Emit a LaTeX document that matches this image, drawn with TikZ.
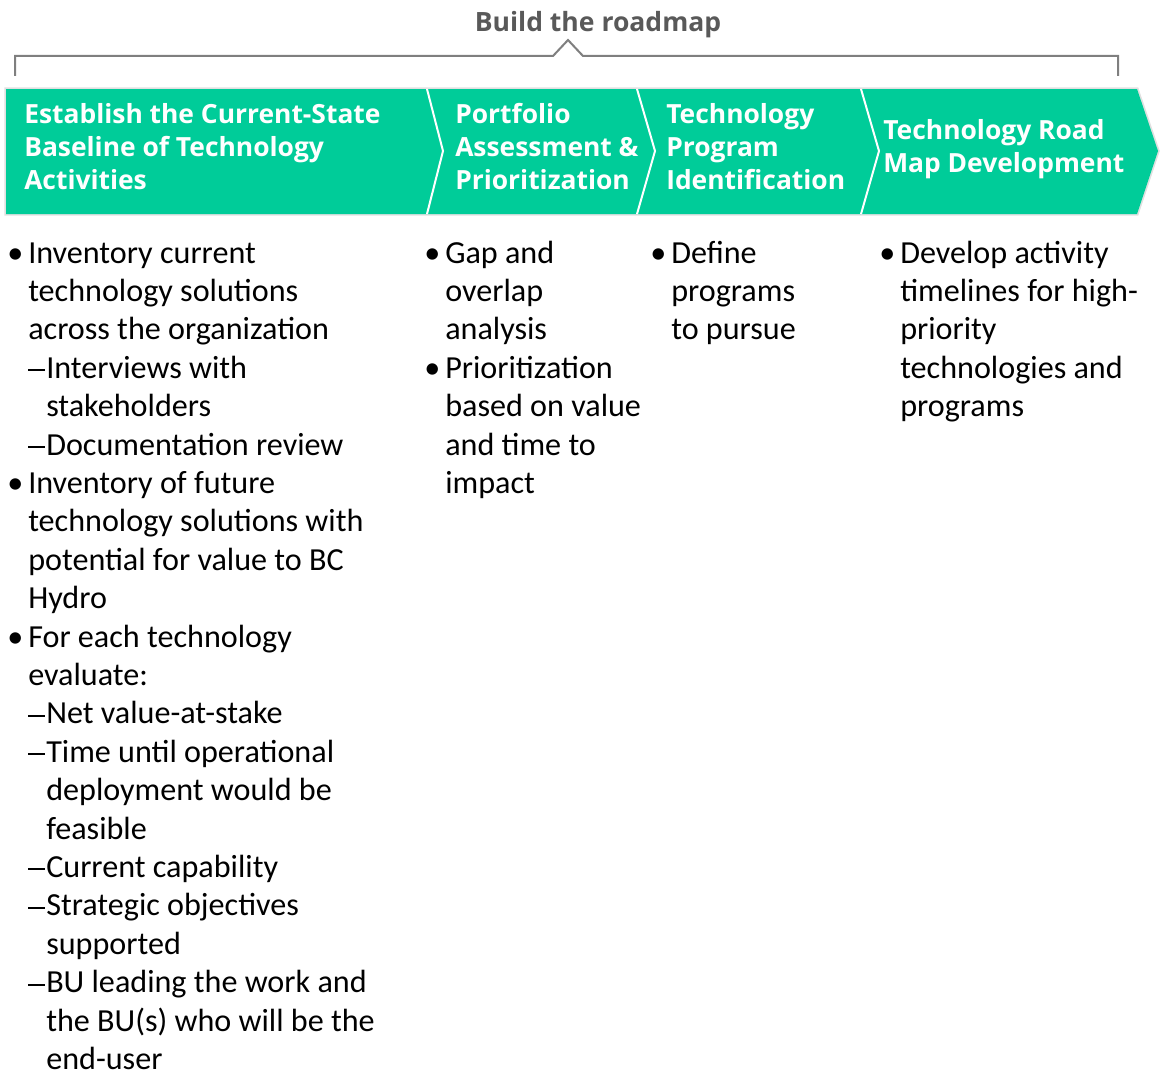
\documentclass[tikz,border=0pt]{standalone}
\usepackage{fontspec}
\setmainfont{Carlito}
\newfontfamily\hdrfont{Open Sans}
\usepackage{tikz}

\definecolor{roadgreen}{RGB}{0,204,153}
\definecolor{bracketgray}{RGB}{127,127,127}
\definecolor{titlegray}{RGB}{89,89,89}

\newcommand\bul{\makebox[14.25pt][l]{\hspace*{-1.5pt}\textbullet}}
\newcommand\ind{\hspace*{14.25pt}}
\newcommand\dsh{\makebox[13.5pt][l]{\rule[5.2pt]{12.8pt}{1.5pt}}}
\newcommand\subind{\hspace*{27.75pt}}

\begin{document}
\begin{tikzpicture}[x=0.75pt,y=0.75pt,yscale=-1,xscale=1,
  hdr/.style={anchor=base west,inner sep=0pt,align=left,text=white,font=\hdrfont\fontsize{19.8}{24.4}\selectfont\bfseries},
  items/.style={anchor=base west,inner sep=0pt,align=left,font=\fontsize{24.1}{28.8}\selectfont}]
\useasboundingbox (0,0) rectangle (1162,1074);

% Text Node
\node (title) [anchor=base,inner sep=0pt,text=titlegray,font=\hdrfont\fontsize{19.9}{24}\selectfont\bfseries] at (598,31.5) {Build the roadmap};

%Shape: Bracket
\draw [bracketgray,line width=1.5pt] (15,76) -- (15,56) -- (553,56) -- (568,40) -- (583,56) -- (1118,56) -- (1118,76);

%Shape: Chevron bar
\draw [fill=roadgreen,draw=black!12,line width=2.5pt,line join=miter] (6,89) -- (1137,89) -- (1158,151) -- (1137,214) -- (6,214) -- cycle;
\fill [roadgreen] (6,89) -- (1137,89) -- (1158,151) -- (1137,214) -- (6,214) -- cycle;
%Straight Lines
\draw [white,line width=1.5pt] (427,89) -- (443,151) -- (427,214);
\draw [white,line width=1.5pt] (637,89) -- (655,151) -- (637,214);
\draw [white,line width=1.5pt] (861,89) -- (879,151) -- (861,214);

% Text Node (anchored at the last baseline)
\node (hdr1) [hdr] at (24,189) {Establish the Current-State\\Baseline of Technology\\Activities};
% Text Node
\node (hdr2) [hdr] at (455,189) {Portfolio\\Assessment \&\\Prioritization};
% Text Node
\node (hdr3) [hdr] at (666,189) {Technology\\Program\\Identification};
% Text Node
\node (hdr4) [hdr] at (883,172) {Technology Road\\Map Development};

% Text Node
\node (col1) [items] at (9,1069.4) {\bul Inventory current\\
\ind technology solutions\\
\ind across the organization\\
\ind\dsh Interviews with\\
\subind stakeholders\\
\ind\dsh Documentation review\\
\bul Inventory of future\\
\ind technology solutions with\\
\ind potential for value to BC\\
\ind Hydro\\
\bul For each technology\\
\ind evaluate:\\
\ind\dsh Net value-at-stake\\
\ind\dsh Time until operational\\
\subind deployment would be\\
\subind feasible\\
\ind\dsh Current capability\\
\ind\dsh Strategic objectives\\
\subind supported\\
\ind\dsh BU leading the work and\\
\subind the BU(s) who will be the\\
\subind end-user};
% Text Node
\node (col2) [items] at (426,493.4) {\bul Gap and\\
\ind overlap\\
\ind analysis\\
\bul Prioritization\\
\ind based on value\\
\ind and time to\\
\ind impact};
% Text Node
\node (col3) [items] at (652,339.8) {\bul Define\\
\ind programs\\
\ind to pursue};
% Text Node
\node (col4) [items] at (881,416.6) {\bul Develop activity\\
\ind timelines for high-\\
\ind priority\\
\ind technologies and\\
\ind programs};

\end{tikzpicture}
\end{document}
